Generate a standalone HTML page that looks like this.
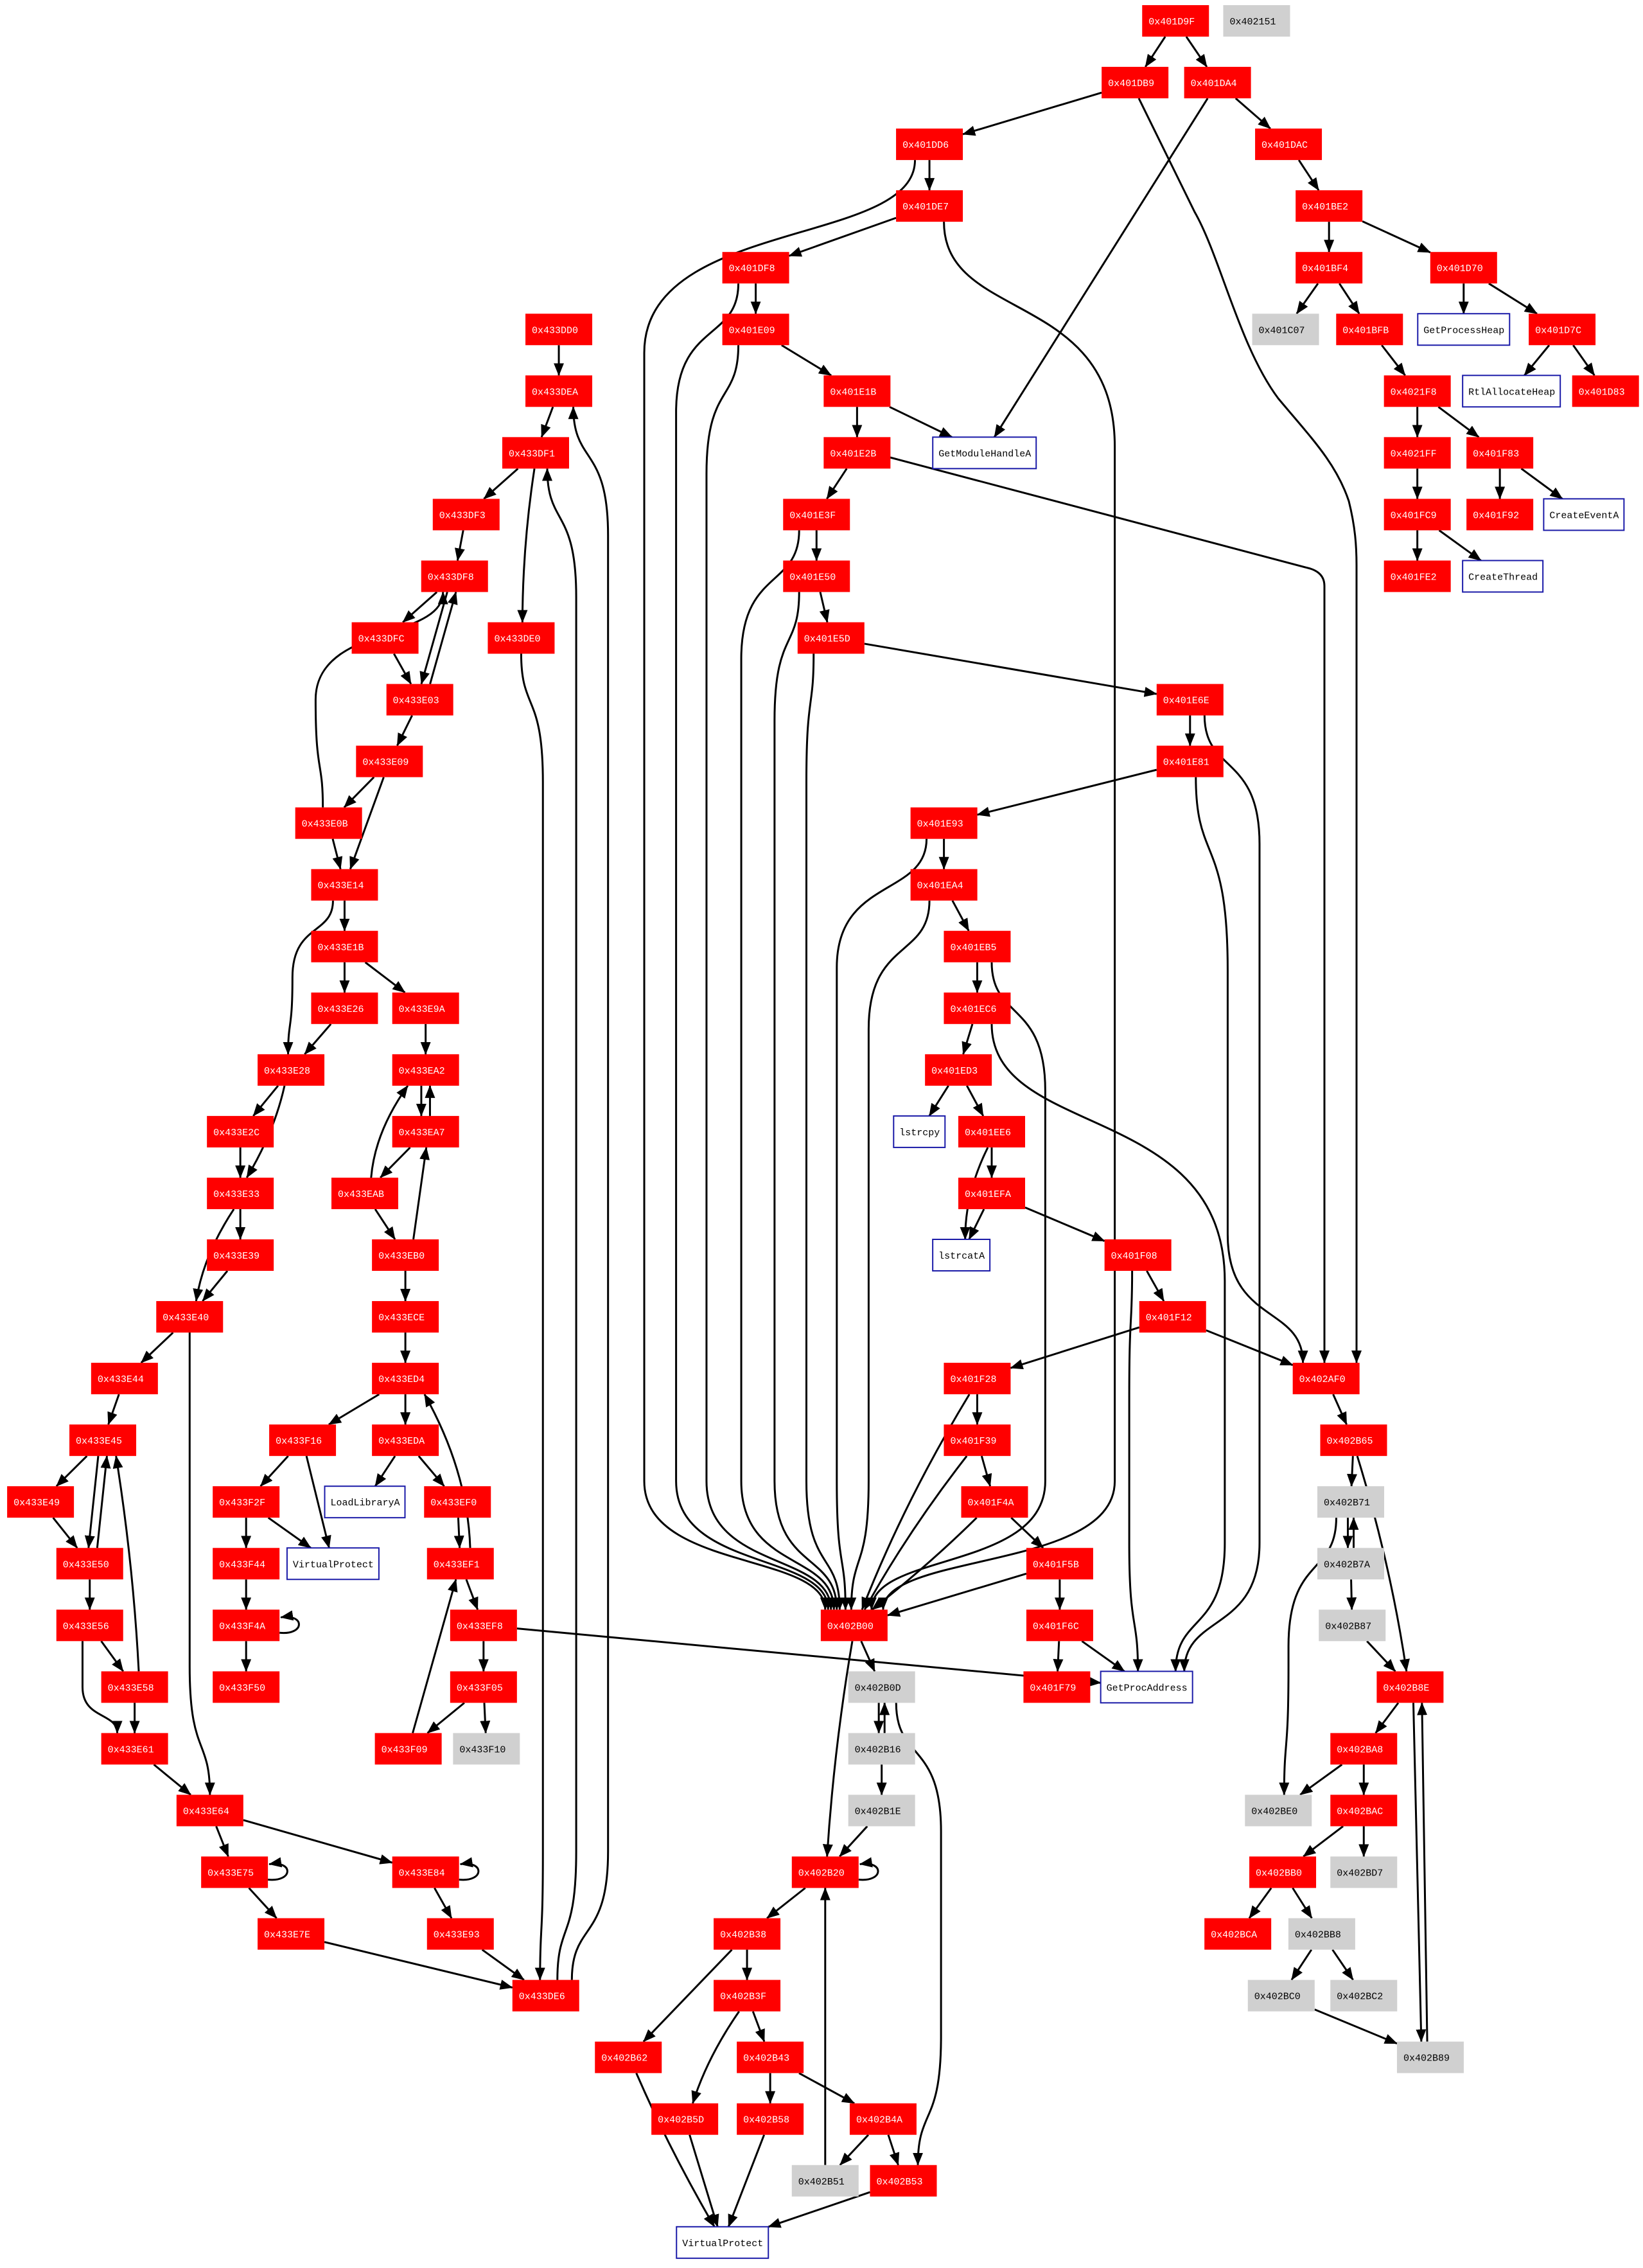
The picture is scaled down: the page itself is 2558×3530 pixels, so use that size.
<!DOCTYPE html>
<html><head><meta charset="utf-8">
<style>html,body{margin:0;padding:0;background:#fff;}svg{display:block}</style>
</head><body>
<svg id="g" xmlns="http://www.w3.org/2000/svg" width="2558" height="3530" viewBox="0 0 2558 3530">
<defs><marker id="a" markerUnits="userSpaceOnUse" markerWidth="20" markerHeight="16" refX="19" refY="8" orient="auto"><path d="M0,0 L20,8 L0,16 z" fill="#000"/></marker></defs>
<g id="E" fill="none" stroke="#000" stroke-width="3"></g>
<g id="N"></g>
</svg>
<script>
var S=2.254,H=49;
function T(r){return 8+96.05*r;}
var nodes={};
var ND=[
["401D9F",812,0,"r"],["402151",868,0,"g"],
["401DB9",784,1,"r"],["401DA4",841,1,"r"],
["401DD6",642,2,"r"],["401DAC",890,2,"r"],
["401DE7",642,3,"r"],["401BE2",918,3,"r"],
["401DF8",522,4,"r"],["401BF4",918,4,"r"],["401D70",1011,4,"r"],
["433DD0",386,5,"r"],["401E09",522,5,"r"],["401C07",888,5,"g"],["401BFB",946,5,"r"],["GetProcessHeap",1011,5,"w"],["401D7C",1079,5,"r"],
["433DEA",386,6,"r"],["401E1B",592,6,"r"],["RtlAllocateHeap",1044,6,"w"],["401D83",1109,6,"r"],["4021F8",979,6,"r"],
["433DF1",370,7,"r"],["401E2B",592,7,"r"],["GetModuleHandleA",680,7,"w"],["4021FF",979,7,"r"],["401F83",1036,7,"r"],
["433DF3",322,8,"r"],["401E3F",564,8,"r"],["401FC9",979,8,"r"],["401F92",1036,8,"r"],["CreateEventA",1094,8,"w"],
["433DF8",314,9,"r"],["401E50",564,9,"r"],["401FE2",979,9,"r"],["CreateThread",1038,9,"w"],
["433DFC",266,10,"r"],["433DE0",360,10,"r"],["401E5D",574,10,"r"],
["433E03",290,11,"r"],["401E6E",822,11,"r"],
["433E09",269,12,"r"],["401E81",822,12,"r"],
["433E0B",227,13,"r"],["401E93",652,13,"r"],
["433E14",238,14,"r"],["401EA4",652,14,"r"],
["433E1B",238,15,"r"],["401EB5",675,15,"r"],
["433E26",238,16,"r"],["433E9A",294,16,"r"],["401EC6",675,16,"r"],
["433E28",201,17,"r"],["433EA2",294,17,"r"],["401ED3",662,17,"r"],
["433E2C",166,18,"r"],["433EA7",294,18,"r"],["lstrcpy",635,18,"w"],["401EE6",685,18,"r"],
["433E33",166,19,"r"],["433EAB",252,19,"r"],["401EFA",685,19,"r"],
["433E39",166,20,"r"],["433EB0",280,20,"r"],["lstrcatA",664,20,"w"],["401F08",786,20,"r"],
["433E40",131,21,"r"],["433ECE",280,21,"r"],["401F12",810,21,"r"],
["433E44",86,22,"r"],["433ED4",280,22,"r"],["401F28",675,22,"r"],["402AF0",916,22,"r"],
["433E45",71,23,"r"],["433F16",209,23,"r"],["433EDA",280,23,"r"],["401F39",675,23,"r"],["402B65",935,23,"r"],
["433E49",28,24,"r"],["433F2F",170,24,"r"],["LoadLibraryA",252,24,"w"],["433EF0",316,24,"r"],["401F4A",687,24,"r"],["402B71",933,24,"g"],
["433E50",62,25,"r"],["433F44",170,25,"r"],["VP1",230,25,"w","VirtualProtect"],["433EF1",318,25,"r"],["401F5B",732,25,"r"],["402B7A",933,25,"g"],
["433E56",62,26,"r"],["433F4A",170,26,"r"],["433EF8",334,26,"r"],["402B00",590,26,"r"],["401F6C",732,26,"r"],["402B87",934,26,"g"],
["433E58",93,27,"r"],["433F50",170,27,"r"],["433F05",334,27,"r"],["402B0D",609,27,"g"],["401F79",730,27,"r"],["GetProcAddress",792,27,"w"],["402B8E",974,27,"r"],
["433E61",93,28,"r"],["433F09",282,28,"r"],["433F10",336,28,"g"],["402B16",609,28,"g"],["402BA8",942,28,"r"],
["433E64",145,29,"r"],["402B1E",609,29,"g"],["402BE0",883,29,"g"],["402BAC",942,29,"r"],
["433E75",162,30,"r"],["433E84",294,30,"r"],["402B20",570,30,"r"],["402BB0",886,30,"r"],["402BD7",942,30,"g"],
["433E7E",201,31,"r"],["433E93",318,31,"r"],["402B38",516,31,"r"],["402BCA",855,31,"r"],["402BB8",913,31,"g"],
["433DE6",377,32,"r"],["402B3F",516,32,"r"],["402BC0",885,32,"g"],["402BC2",942,32,"g"],
["402B62",434,33,"r"],["402B43",532,33,"r"],["402B89",988,33,"g"],
["402B5D",473,34,"r"],["402B58",532,34,"r"],["402B4A",610,34,"r"],
["402B51",570,35,"g"],["402B53",624,35,"r"],
["VP2",499,36,"w","VirtualProtect"]
];
var NS="http://www.w3.org/2000/svg";
var gN=document.getElementById("N"),gE=document.getElementById("E");
function el(t,a,p){var e=document.createElementNS(NS,t);for(var k in a)e.setAttribute(k,a[k]);p.appendChild(e);return e;}
ND.forEach(function(d){
  var lab=d[3]=="w"?(d[4]||d[0]):"0x"+d[0];
  var w=d[3]=="w"?lab.length*9+17:104;
  var cx=d[1]*S,y=T(d[2]);
  var n={cx:cx,x:cx-w/2,y:y,w:w,cy:y+H/2};
  nodes[d[0]]=n;
  var fill=d[3]=="r"?"#ff0000":d[3]=="g"?"#d0d0d0":"#ffffff";
  var r=el("rect",{x:n.x,y:y,width:w,height:H,fill:fill},gN);
  if(d[3]=="w"){r.setAttribute("stroke","#1a1aa8");r.setAttribute("stroke-width","2");}
  var t=el("text",{x:n.x+(d[3]=="w"?9:10),y:y+H/2+5.5,fill:d[3]=="r"?"#fff":"#000","font-family":"Liberation Mono, monospace","font-size":"15"},gN);
  t.textContent=lab;
});
function clip(n,px,py){
  var dx=px-n.cx,dy=py-n.cy;if(dx==0&&dy==0)return[n.cx,n.cy];
  var sx=dx?(n.w/2)/Math.abs(dx):1e9,sy=dy?(H/2)/Math.abs(dy):1e9;var s=Math.min(sx,sy);
  return[n.cx+dx*s,n.cy+dy*s];
}
function P(d){el("path",{d:d,"marker-end":"url(#a)"},gE);}
function E(a,b,o){o=o||{};var A=nodes[a],B=nodes[b];var ox=(o.o||0),ox2=(o.o2!==undefined?o.o2:ox);
  var d;
  if(o.v!==undefined){var vx=o.v*S;var down=B.y>A.y;
    var sx=A.cx+(o.so||0)*S,sy=down?A.y+H:A.y,tx=B.cx+(o.to||0)*S,ty=down?B.y:B.y+H;var dir=down?1:-1;
    var span=Math.abs(ty-sy);var t1=Math.min(o.tl||200,span/2),t2=Math.min(o.tl2||200,span/2);
    d="M"+sx+","+sy+" C"+sx+","+(sy+dir*t1*0.45)+" "+vx+","+(sy+dir*t1*0.3)+" "+vx+","+(sy+dir*t1)+" L"+vx+","+(ty-dir*t2)+" C"+vx+","+(ty-dir*t2*0.3)+" "+tx+","+(ty-dir*t2*0.45)+" "+tx+","+ty;
  } else {
    var s=clip({cx:A.cx+ox*S,cy:A.cy,w:A.w-2*Math.abs(ox*S)},B.cx+ox2*S,B.cy);
    var t=clip({cx:B.cx+ox2*S,cy:B.cy,w:B.w-2*Math.abs(ox2*S)},A.cx+ox*S,A.cy);
    if(o.c){var mx=(s[0]+t[0])/2+o.c*S,my=(s[1]+t[1])/2;d="M"+s[0]+","+s[1]+" Q"+mx+","+my+" "+t[0]+","+t[1];}
    else d="M"+s[0]+","+s[1]+" L"+t[0]+","+t[1];
  }
  P(d);
}
function L(a){var n=nodes[a];var x=n.x+n.w,y=n.y;
  el("path",{d:"M"+x+","+(y+36)+" C"+(x+40)+","+(y+40)+" "+(x+40)+","+(y+6)+" "+(x+2)+","+(y+12),"marker-end":"url(#a)"},gE);}
E("401D9F","401DB9");E("401D9F","401DA4");
E("401DB9","401DD6");
P("M1773,153 L1860,330 C1900,400 1930,540 1990,620 C2040,680 2080,720 2100,780 C2110,820 2112,850 2112,880 L2112,2121");
E("401DA4","401DAC");E("401DA4","GetModuleHandleA",{c:0});
E("401DD6","401DE7");E("401DD6","402B00",{v:445,so:-10,to:-20,tl:300});
E("401DAC","401BE2");
E("401DE7","401DF8");E("401DE7","402B00",{v:770,so:10,to:20,tl:350});
E("401BE2","401BF4");E("401BE2","401D70");
E("401DF8","401E09");E("401DF8","402B00",{v:467,so:-12,to:-18});
E("401BF4","401C07");E("401BF4","401BFB");
E("401D70","GetProcessHeap");E("401D70","401D7C");
E("401E09","401E1B");E("401E09","402B00",{v:488,so:-12,to:-16});
E("401BFB","4021F8");
E("401D7C","RtlAllocateHeap");E("401D7C","401D83");
E("401E1B","401E2B");E("401E1B","GetModuleHandleA");
E("4021F8","4021FF");E("4021F8","401F83");
E("401E2B","401E3F");
P("M1386,712 L2040,885 Q2062,892 2062,912 L2062,2121");
E("4021FF","401FC9");
E("401F83","401F92");E("401F83","CreateEventA");
E("401E3F","401E50");E("401E3F","402B00",{v:512,so:-12,to:-14});
E("401FC9","401FE2");E("401FC9","CreateThread");
E("401E50","401E5D");E("401E50","402B00",{v:535,so:-12,to:-12});
E("401E5D","401E6E");E("401E5D","402B00",{v:557,so:-12,to:-10});
E("401E6E","401E81");E("401E6E","GetProcAddress",{v:870,so:10,to:26});
E("401E81","401E93");E("401E81","402AF0",{v:848,so:4,to:-16,tl:300});
E("401E93","401EA4");E("401E93","402B00",{v:578,so:-12,to:-6});
E("401EA4","401EB5");E("401EA4","402B00",{v:600,so:-10,to:-2});
E("401EB5","401EC6");E("401EB5","402B00",{v:722,so:10,to:12});
E("401EC6","401ED3");E("401EC6","GetProcAddress",{v:846,so:10,to:20,tl:400});
E("401ED3","lstrcpy");E("401ED3","401EE6");
E("401EE6","401EFA");E("401EE6","lstrcatA",{c:-8});
E("401EFA","lstrcatA");E("401EFA","401F08");
E("401F08","401F12");E("401F08","GetProcAddress",{v:780,so:-4,to:-6});
E("401F12","401F28");E("401F12","402AF0");
E("401F28","401F39");E("401F28","402B00",{c:-8});
E("401F39","401F4A");E("401F39","402B00",{c:-6});
E("401F4A","401F5B");E("401F4A","402B00",{c:4});
E("401F5B","401F6C");E("401F5B","402B00");
E("401F6C","401F79");E("401F6C","GetProcAddress");
E("433EF8","GetProcAddress");
E("402AF0","402B65");
E("402B65","402B71");E("402B65","402B8E",{c:6});
E("402B71","402B7A",{o:-2,o2:-2});E("402B7A","402B71",{o:2,o2:2});E("402B71","402BE0",{v:890,so:-10,to:4});
E("402B7A","402B87");E("402B87","402B8E");
E("402B8E","402BA8");E("402B8E","402B89",{o:2,o2:-6});E("402B89","402B8E",{o:-2,o2:8});
E("402BA8","402BE0");E("402BA8","402BAC");
E("402BAC","402BB0");E("402BAC","402BD7");
E("402BB0","402BCA");E("402BB0","402BB8");
E("402BB8","402BC0");E("402BB8","402BC2");
E("402BC0","402B89");
E("402B00","402B0D");E("402B00","402B20",{c:-4});
E("402B0D","402B16",{o:-2,o2:-2});E("402B16","402B0D",{o:2,o2:2});E("402B0D","402B53",{v:650,so:10,to:10});
E("402B16","402B1E");E("402B1E","402B20");
L("402B20");E("402B20","402B38");
E("402B38","402B3F");E("402B38","402B62");
E("402B3F","402B43");E("402B3F","402B5D",{c:-6});
E("402B43","402B58");E("402B43","402B4A");
E("402B4A","402B51");E("402B4A","402B53");
E("402B51","402B20",{o:0,o2:0});
E("402B53","VP2");E("402B62","VP2",{c:-4});E("402B5D","VP2");E("402B58","VP2");
E("433DD0","433DEA");E("433DEA","433DF1");
E("433DF1","433DF3");E("433DF1","433DE0",{c:-4});
E("433DF3","433DF8");
E("433DF8","433DFC");E("433DF8","433E03",{o:-2,o2:-2});
E("433DFC","433E03");
E("433E03","433DF8",{o:4,o2:4});E("433E03","433E09");
E("433E09","433E0B");E("433E09","433E14");
E("433E0B","433DF8",{v:218,so:-4,to:-8});E("433E0B","433E14");
E("433E14","433E1B");E("433E14","433E28",{v:202,so:-8,to:-2});
E("433E1B","433E26");E("433E1B","433E9A");
E("433E26","433E28");
E("433E28","433E2C");E("433E28","433E33",{c:6});
E("433E2C","433E33");
E("433E33","433E39");E("433E33","433E40",{c:-8});
E("433E39","433E40");
E("433E40","433E44");E("433E40","433E64",{v:131,so:0,to:0});
E("433E44","433E45");
E("433E45","433E49");E("433E45","433E50",{o:-2,o2:-2});
E("433E49","433E50");
E("433E50","433E45",{o:4,o2:4});E("433E50","433E56");
E("433E56","433E58");E("433E56","433E61",{v:57,so:-5,to:-12});
E("433E58","433E45",{c:4,o:4,o2:8});E("433E58","433E61");
E("433E61","433E64");
E("433E64","433E75");E("433E64","433E84");
L("433E75");E("433E75","433E7E");
L("433E84");E("433E84","433E93");
E("433E7E","433DE6");E("433E93","433DE6");
E("433DE0","433DE6",{v:375,so:0,to:-4});
E("433DE6","433DF1",{v:398,so:8,to:8});E("433DE6","433DEA",{v:420,so:18,to:10});
E("433E9A","433EA2");
E("433EA2","433EA7",{o:-3,o2:-3});E("433EA7","433EA2",{o:3,o2:3});
E("433EA7","433EAB");E("433EAB","433EA2",{c:-10,o:0,o2:-8});E("433EAB","433EB0");
E("433EB0","433EA7",{o:4,o2:2});
E("433EB0","433ECE");E("433ECE","433ED4");
E("433ED4","433F16");E("433ED4","433EDA");
E("433EDA","LoadLibraryA");E("433EDA","433EF0");
E("433EF0","433EF1");
E("433EF1","433ED4",{c:14,o:10,o2:10});E("433EF1","433EF8");
E("433F16","433F2F");E("433F16","VP1");
E("433F2F","433F44");E("433F2F","VP1");
E("433F44","433F4A");L("433F4A");E("433F4A","433F50");
E("433EF8","433F05");
E("433F05","433F09");E("433F05","433F10");
E("433F09","433EF1");
</script>
</body></html>
